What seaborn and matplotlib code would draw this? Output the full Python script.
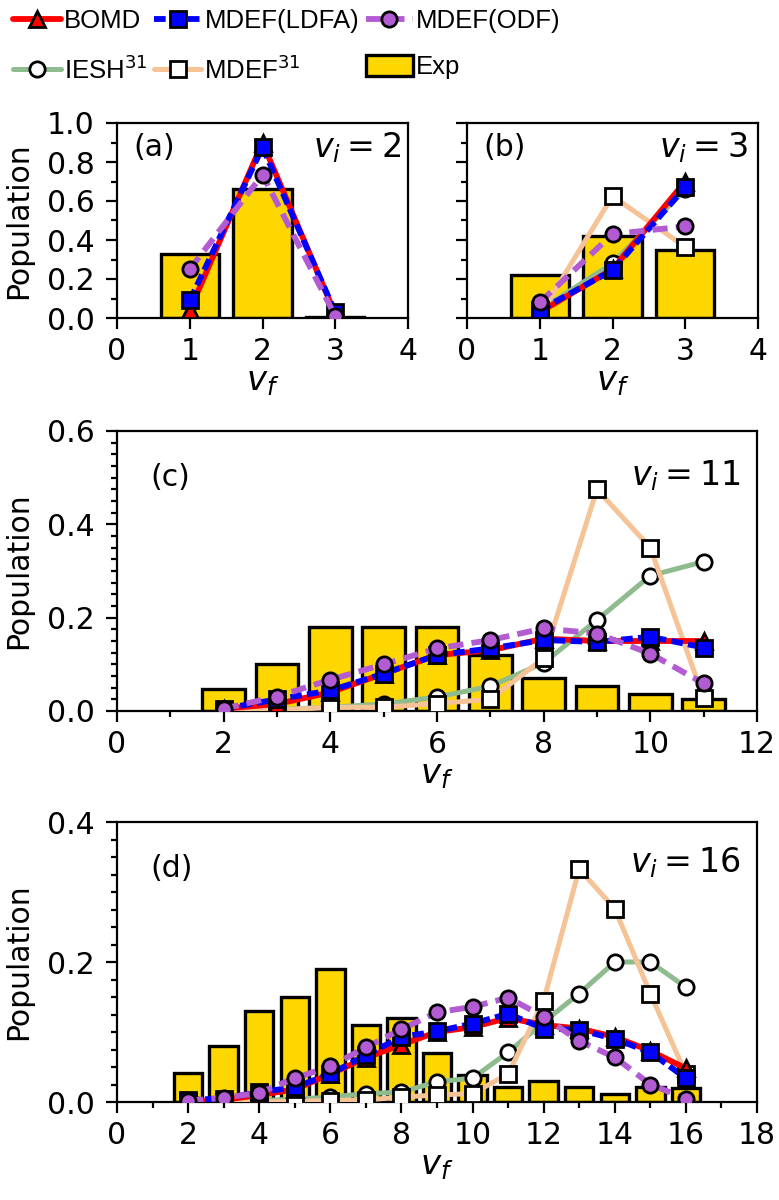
import numpy as np
import pandas as pd
import matplotlib
matplotlib.use("Agg")
import matplotlib.pyplot as plt
from matplotlib.lines import Line2D
from matplotlib.patches import Patch
from matplotlib.ticker import MultipleLocator, FormatStrFormatter
from matplotlib.font_manager import FontProperties
import seaborn as sns

# ---------------- data ----------------
vf_a = [1, 2, 3]
exp_a = [0.33, 0.66, 0.005]
bomd_a = [0.04, 0.90, 0.02]
ldfa_a = [0.09, 0.875, 0.03]
odf_a = [0.25, 0.735, 0.01]

vf_b = [1, 2, 3]
exp_b = [0.22, 0.42, 0.35]
bomd_b = [0.03, 0.25, 0.70]
ldfa_b = [0.04, 0.245, 0.67]
odf_b = [0.08, 0.43, 0.47]
iesh_b = [0.04, 0.28, 0.66]
mdef31_b = [0.015, 0.625, 0.365]

vf_c = [2, 3, 4, 5, 6, 7, 8, 9, 10, 11]
exp_c = [0.048, 0.10, 0.18, 0.18, 0.18, 0.12, 0.07, 0.053, 0.036, 0.026]
bomd_c = [0.005, 0.015, 0.04, 0.08, 0.12, 0.13, 0.155, 0.15, 0.15, 0.15]
ldfa_c = [0.005, 0.025, 0.044, 0.08, 0.12, 0.134, 0.152, 0.148, 0.159, 0.136]
odf_c = [0.005, 0.031, 0.067, 0.10, 0.134, 0.152, 0.177, 0.166, 0.123, 0.059]
iesh_c = [0.0, 0.003, 0.008, 0.015, 0.03, 0.053, 0.103, 0.195, 0.29, 0.32]
mdef31_c = [0.0, 0.002, 0.008, 0.008, 0.016, 0.025, 0.113, 0.475, 0.35, 0.027]

vf_d = [2, 3, 4, 5, 6, 7, 8, 9, 10, 11, 12, 13, 14, 15, 16]
exp_d = [0.041, 0.08, 0.13, 0.15, 0.19, 0.11, 0.12, 0.07, 0.038, 0.021,
         0.03, 0.021, 0.011, 0.021, 0.02]
bomd_d = [0.0, 0.003, 0.01, 0.018, 0.04, 0.063, 0.082, 0.10, 0.107, 0.12,
          0.11, 0.105, 0.093, 0.073, 0.048]
ldfa_d = [0.003, 0.005, 0.014, 0.021, 0.04, 0.067, 0.093, 0.101, 0.112, 0.126,
          0.105, 0.103, 0.09, 0.071, 0.034]
odf_d = [0.002, 0.006, 0.013, 0.034, 0.051, 0.078, 0.104, 0.128, 0.136, 0.149,
         0.122, 0.087, 0.064, 0.025, 0.005]
iesh_d = [0.0, 0.0, 0.002, 0.004, 0.007, 0.012, 0.014, 0.029, 0.034, 0.071,
          0.114, 0.155, 0.20, 0.20, 0.164]
mdef31_d = [0.0, 0.0, 0.0, 0.001, 0.002, 0.003, 0.007, 0.01, 0.012, 0.04,
            0.145, 0.333, 0.276, 0.155, 0.04]

legend_labels = ["BOMD", "MDEF(LDFA)", "MDEF(ODF)",
                 r"IESH$^{31}$", r"MDEF$^{31}$", "Exp"]
panel_tags = ["(a)", "(b)", "(c)", "(d)"]
vi_labels = [r"$v_i = 2$", r"$v_i = 3$", r"$v_i = 11$", r"$v_i = 16$"]

# ---------------- style ----------------
sns.set_theme(style="ticks")
plt.rcParams["font.family"] = ["DejaVu Sans"]
plt.rcParams["mathtext.fontset"] = "dejavusans"
plt.rcParams.update({
    "axes.edgecolor": "black",
    "axes.linewidth": 1.6,
    "xtick.color": "black",
    "ytick.color": "black",
    "axes.labelcolor": "black",
    "text.color": "black",
})

FS = 21.5
RED = "#ff0000"
BLUE = "#0000ff"
PURPLE = "#b35bd3"
GREEN = "#8fbc8f"
ORANGE = "#f5c396"
GOLD = "#ffd700"
MS = 11
MEW = 2.0

styles = {
    "bomd": dict(color=RED, marker="^", markerfacecolor=RED, linewidth=4.2,
                 linestyle="-", zorder=3.0),
    "ldfa": dict(color=BLUE, marker="s", markerfacecolor=BLUE, linewidth=4.2,
                 linestyle=(0, (2.0, 0.9)), zorder=3.1),
    "odf": dict(color=PURPLE, marker="o", markerfacecolor=PURPLE, linewidth=4.2,
                linestyle=(0, (2.6, 1.4)), zorder=3.2),
    "iesh": dict(color=GREEN, marker="o", markerfacecolor="white", linewidth=3.6,
                 linestyle="-", zorder=2.8),
    "mdef31": dict(color=ORANGE, marker="s", markerfacecolor="white", linewidth=3.6,
                   linestyle="-", zorder=2.9),
}

fig = plt.figure(figsize=(7.79, 12.0), dpi=100)
W, H = 779.0, 1200.0


def add_ax(l, t, r, b):
    return fig.add_axes([l / W, 1 - b / H, (r - l) / W, (b - t) / H])


ax_a = add_ax(117, 123, 408, 318)
ax_b = add_ax(467, 123, 758, 318)
ax_c = add_ax(117, 431, 757, 711)
ax_d = add_ax(117, 822, 757, 1102)


def draw(ax, vf, exp, series):
    df = pd.DataFrame({"vf": vf, "exp": exp})
    sns.barplot(data=df, x="vf", y="exp", native_scale=True, width=0.8,
                color=GOLD, saturation=1, edgecolor="black", linewidth=2.4,
                errorbar=None, ax=ax, zorder=1)
    for key, vals in series:
        st = dict(styles[key])
        z = st.pop("zorder")
        sns.lineplot(x=vf, y=vals, ax=ax, markersize=MS,
                     markeredgecolor="black", markeredgewidth=MEW,
                     legend=False, errorbar=None, zorder=z, **st)


draw(ax_a, vf_a, exp_a, [("bomd", bomd_a), ("ldfa", ldfa_a), ("odf", odf_a)])
draw(ax_b, vf_b, exp_b, [("iesh", iesh_b), ("mdef31", mdef31_b), ("bomd", bomd_b),
                         ("ldfa", ldfa_b), ("odf", odf_b)])
draw(ax_c, vf_c, exp_c, [("iesh", iesh_c), ("mdef31", mdef31_c), ("bomd", bomd_c),
                         ("ldfa", ldfa_c), ("odf", odf_c)])
draw(ax_d, vf_d, exp_d, [("iesh", iesh_d), ("mdef31", mdef31_d), ("bomd", bomd_d),
                         ("ldfa", ldfa_d), ("odf", odf_d)])

# axes formatting
cfg = [
    (ax_a, (0, 4), (0, 1.0), 1, None, 0.2, 0.1),
    (ax_b, (0, 4), (0, 1.0), 1, None, 0.2, 0.1),
    (ax_c, (0, 12), (0, 0.6), 2, 1, 0.2, 0.025),
    (ax_d, (0, 18), (0, 0.4), 2, 1, 0.2, 0.025),
]
for ax, xl, yl, xmaj, xmin, ymaj, ymin in cfg:
    ax.set_xlim(*xl)
    ax.set_ylim(*yl)
    ax.xaxis.set_major_locator(MultipleLocator(xmaj))
    if xmin:
        ax.xaxis.set_minor_locator(MultipleLocator(xmin))
    ax.yaxis.set_major_locator(MultipleLocator(ymaj))
    ax.yaxis.set_minor_locator(MultipleLocator(ymin))
    ax.yaxis.set_major_formatter(FormatStrFormatter("%.1f"))
    ax.tick_params(which="major", direction="out", length=8, width=1.6,
                   labelsize=FS)
    ax.tick_params(which="minor", direction="out", length=4.5, width=1.6)
    ax.tick_params(axis="x", which="major", pad=6)
    ax.tick_params(axis="y", which="major", pad=8)
    ax.set_xlabel(r"$v_f$", fontsize=FS + 3, labelpad=-1)
    ax.set_ylabel("Population", fontsize=FS, labelpad=10)
    for s in ax.spines.values():
        s.set_visible(True)
        s.set_linewidth(1.6)
        s.set_color("black")

ax_b.set_ylabel("")
ax_b.tick_params(labelleft=False)

# panel annotations
ann = [
    (ax_a, 0.055, 0.875, 0.975, 0.875),
    (ax_b, 0.055, 0.875, 0.965, 0.875),
    (ax_c, 0.052, 0.835, 0.975, 0.84),
    (ax_d, 0.052, 0.835, 0.975, 0.855),
]
for (ax, tx, ty, vx, vy), tag, vi in zip(ann, panel_tags, vi_labels):
    ax.text(tx, ty, tag, transform=ax.transAxes, fontsize=FS, ha="left", va="center")
    ax.text(vx, vy, vi, transform=ax.transAxes, fontsize=FS + 2.5, ha="right", va="center")


# legend (row-major order emulated via column-major fill)
def proxy(key):
    st = dict(styles[key])
    st.pop("zorder")
    return Line2D([], [], markersize=MS, markeredgecolor="black",
                  markeredgewidth=MEW, **st)


h_bomd, h_ldfa, h_odf = proxy("bomd"), proxy("ldfa"), proxy("odf")
h_iesh, h_mdef = proxy("iesh"), proxy("mdef31")
h_exp = Patch(facecolor=GOLD, edgecolor="black", linewidth=2.4)
handles = [h_bomd, h_iesh, h_ldfa, h_mdef, h_odf, h_exp]
labels = [legend_labels[0], legend_labels[3], legend_labels[1],
          legend_labels[4], legend_labels[2], legend_labels[5]]
LFS = 18.5
lprop = FontProperties(family=["Liberation Sans Narrow", "Liberation Sans"], size=LFS)
fig.legend(handles, labels, loc="upper left", bbox_to_anchor=(8 / W, 1 - 4 / H),
           ncol=3, frameon=False, prop=lprop, handlelength=1.85,
           handletextpad=0.12, columnspacing=0.25, labelspacing=0.85,
           borderpad=0.2, borderaxespad=0.0, handleheight=0.85)

fig.savefig("out.png", dpi=100)
